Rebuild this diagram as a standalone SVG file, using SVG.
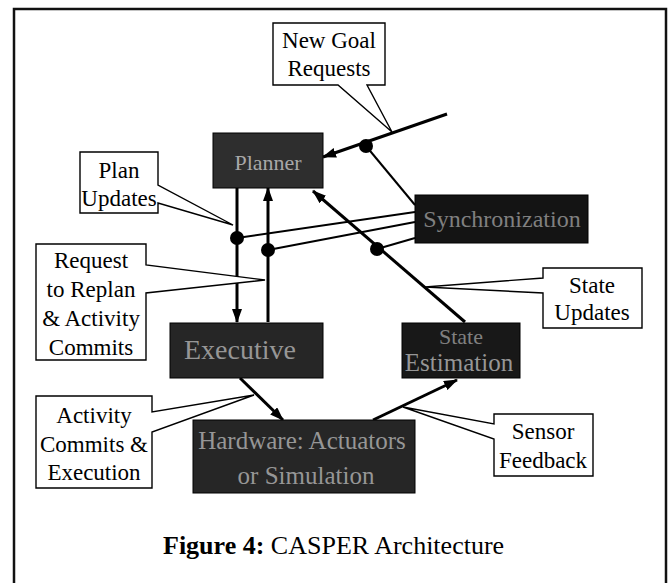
<svg xmlns="http://www.w3.org/2000/svg" width="669" height="583" viewBox="0 0 669 583">
<defs>
<marker id="ah" viewBox="0 0 14 10" refX="13" refY="5" markerWidth="14" markerHeight="10" markerUnits="userSpaceOnUse" orient="auto">
<path d="M0,0 L14,5 L0,10 Z" fill="#000"/>
</marker>
</defs>
<style>
.frame{fill:none;stroke:#111;stroke-width:2.5}
.box{stroke:#000;stroke-width:1}
.blabel{font-family:"Liberation Serif",serif;font-size:22px;fill:#969696;text-anchor:middle}
.call{fill:#fff;stroke:#000;stroke-width:1.4;stroke-linejoin:miter}
.ctext{font-family:"Liberation Serif",serif;font-size:23px;fill:#000;text-anchor:middle}
.arrow{fill:none;stroke:#000;stroke-width:3;marker-end:url(#ah)}
.thin{fill:none;stroke:#000;stroke-width:2}
.dot{fill:#000}
.cap{font-family:"Liberation Serif",serif;font-size:26px;fill:#000}
</style>
<rect width="669" height="583" fill="#fff"/>
<path class="frame" d="M14,583 V9 H666 V583"/>

<g id="connectors">
<line class="arrow" x1="447" y1="114" x2="323" y2="157"/>
<line class="arrow" x1="237" y1="188" x2="237" y2="322"/>
<line class="arrow" x1="268" y1="322" x2="268" y2="188"/>
<line class="arrow" x1="465" y1="322" x2="313" y2="191"/>
<line class="arrow" x1="240" y1="378" x2="283" y2="420"/>
<line class="arrow" x1="373" y1="420" x2="457" y2="380"/>
<line class="thin" x1="366" y1="146" x2="415" y2="205"/>
<line class="thin" x1="237" y1="238" x2="415" y2="212"/>
<line class="thin" x1="268" y1="250" x2="415" y2="222"/>
<line class="thin" x1="377" y1="249" x2="415" y2="238"/>
<circle class="dot" cx="366" cy="146" r="7"/>
<circle class="dot" cx="237" cy="238" r="7"/>
<circle class="dot" cx="268" cy="250" r="7"/>
<circle class="dot" cx="377" cy="249" r="7"/>
</g>

<g id="planner">
<rect class="box" x="213" y="133" width="110" height="55" fill="#2e2e2e"/>
<text class="blabel" x="268" y="170" style="fill:#a8a8a8">Planner</text>
</g>
<g id="synchronization">
<rect class="box" x="415" y="195" width="173" height="48" fill="#141414"/>
<text class="blabel" x="502" y="227" style="font-size:24px;fill:#808080">Synchronization</text>
</g>
<g id="executive">
<rect class="box" x="170" y="323" width="153" height="55" fill="#262626"/>
<text class="blabel" x="240" y="359" style="font-size:28px">Executive</text>
</g>
<g id="state-estimation">
<rect class="box" x="402" y="323" width="118" height="55" fill="#181818"/>
<text class="blabel" x="461" y="344" style="font-size:22px;fill:#808080">State</text>
<text class="blabel" x="459" y="371" style="font-size:25px">Estimation</text>
</g>
<g id="hardware">
<rect class="box" x="193" y="420" width="222" height="73" fill="#262626"/>
<text class="blabel" x="302" y="449" style="font-size:25px">Hardware: Actuators</text>
<text class="blabel" x="306" y="484" style="font-size:25px">or Simulation</text>
</g>

<g id="new-goal-requests">
<path class="call" d="M273,23 H385 V85 H367 L392,132 L338,85 H273 Z"/>
<text class="ctext" x="329" y="48">New Goal</text>
<text class="ctext" x="329" y="76">Requests</text>
</g>
<g id="plan-updates">
<path class="call" d="M80,152 H158 V185 L233,225 L158,203 V213 H80 Z"/>
<text class="ctext" x="119" y="178">Plan</text>
<text class="ctext" x="119" y="206">Updates</text>
</g>
<g id="request-to-replan">
<path class="call" d="M36,244 H146 V265 L265,280 L146,293 V360 H36 Z"/>
<text class="ctext" x="91" y="268">Request</text>
<text class="ctext" x="91" y="297">to Replan</text>
<text class="ctext" x="91" y="326">&amp; Activity</text>
<text class="ctext" x="91" y="355">Commits</text>
</g>
<g id="activity-commits">
<path class="call" d="M36,396 H152 V412 L254,395 L152,432 V488 H36 Z"/>
<text class="ctext" x="94" y="423">Activity</text>
<text class="ctext" x="94" y="452">Commits &amp;</text>
<text class="ctext" x="94" y="480">Execution</text>
</g>
<g id="state-updates">
<path class="call" d="M543,268 H642 V328 H543 V293 L425,287 L543,278 Z"/>
<text class="ctext" x="592" y="293">State</text>
<text class="ctext" x="592" y="320">Updates</text>
</g>
<g id="sensor-feedback">
<path class="call" d="M494,414 H593 V476 H494 V439 L403,407 L494,424 Z"/>
<text class="ctext" x="543" y="439">Sensor</text>
<text class="ctext" x="543" y="468">Feedback</text>
</g>

<text class="cap" x="163" y="554"><tspan font-weight="bold">Figure 4:</tspan> CASPER Architecture</text>
</svg>
